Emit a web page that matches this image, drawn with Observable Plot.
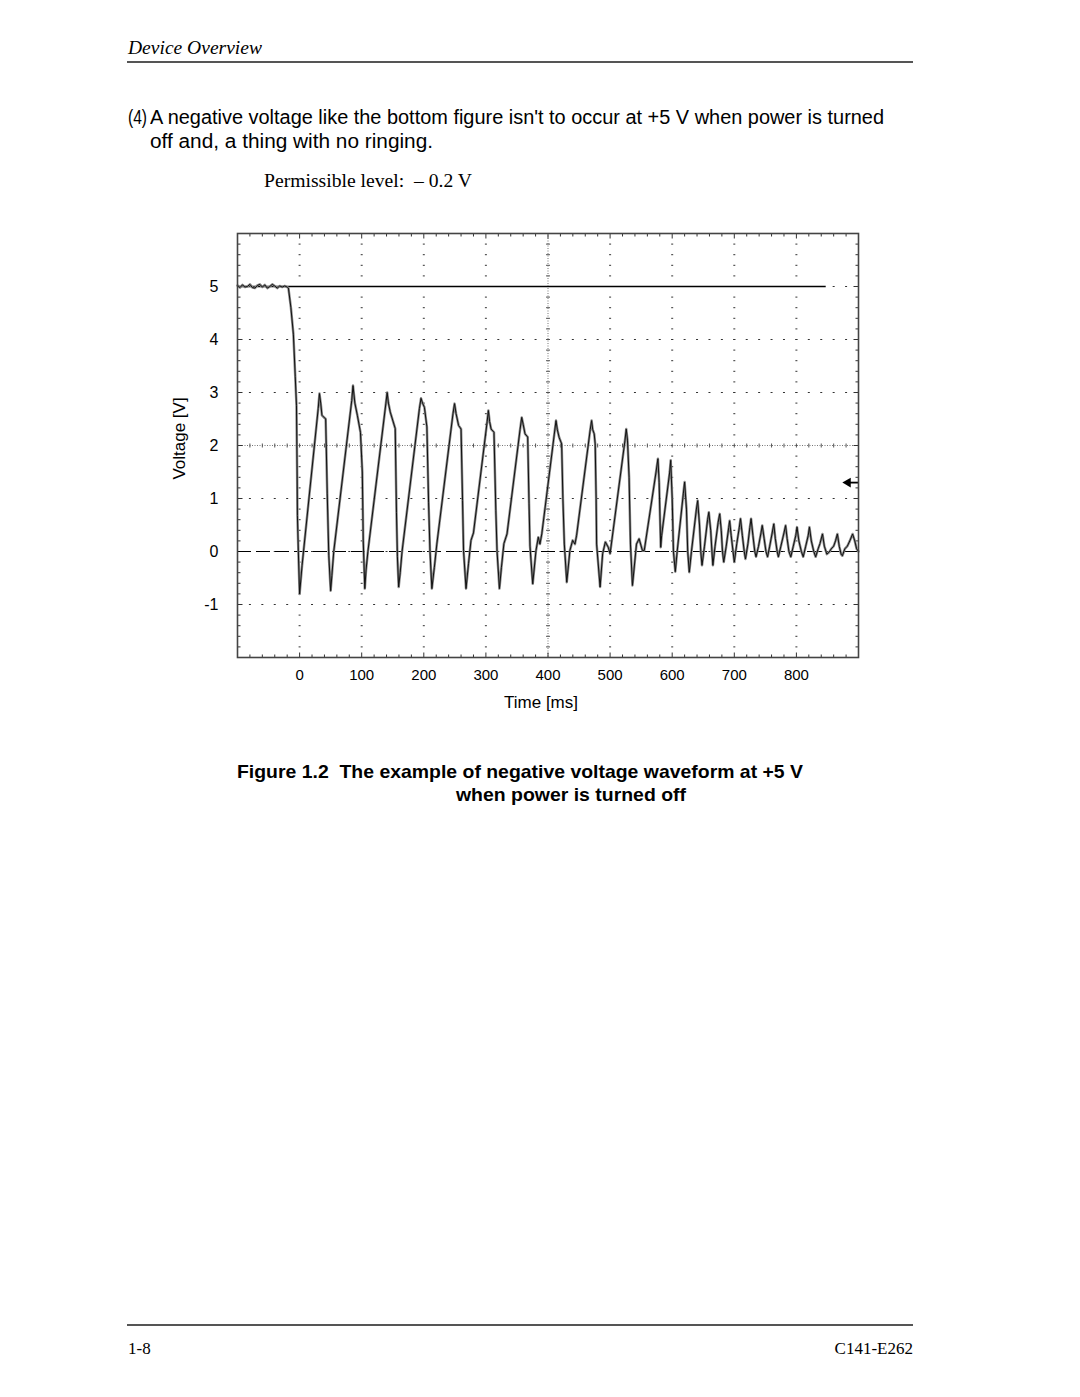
<!DOCTYPE html>
<html><head><meta charset="utf-8">
<script src="https://cdn.jsdelivr.net/npm/d3@7"></script>
<script src="https://cdn.jsdelivr.net/npm/@observablehq/plot@0.6"></script>
<style>
body{margin:0;background:#fff;width:1080px;height:1397px;position:relative;overflow:hidden;}
.t{position:absolute;white-space:nowrap;color:#000;line-height:1;}
.sans{font-family:"Liberation Sans",Arial,sans-serif;}
.serif{font-family:"Liberation Serif","Times New Roman",serif;}
.rule{position:absolute;height:2px;background:#555;}
</style></head><body>
<div class="t serif fit" data-w="134" style="left:128px;top:38px;font-size:19px;font-style:italic;">Device Overview</div>
<div class="rule" style="left:127px;top:61px;width:786px;"></div>
<div class="t sans fit" data-w="19" style="left:128px;top:107px;font-size:20px;">(4)</div>
<div class="t sans fit" data-w="734" style="left:150px;top:107px;font-size:20px;">A negative voltage like the bottom figure isn't to occur at +5 V when power is turned</div>
<div class="t sans fit" data-w="283" style="left:150px;top:131px;font-size:20px;">off and, a thing with no ringing.</div>
<div class="t serif fit" data-w="208" style="left:264px;top:171px;font-size:19px;">Permissible level:&nbsp; – 0.2 V</div>
<div id="chart" style="position:absolute;left:160px;top:220px;"></div>
<div class="t sans fit" data-w="566" style="left:237px;top:762px;font-size:19px;font-weight:bold;">Figure 1.2&nbsp; The example of negative voltage waveform at +5 V</div>
<div class="t sans fit" data-w="230" style="left:456px;top:785px;font-size:19px;font-weight:bold;">when power is turned off</div>
<div class="rule" style="left:127px;top:1324px;width:786px;"></div>
<div class="t serif" style="left:128px;top:1340px;font-size:17px;">1-8</div>
<div class="t serif" style="right:167px;top:1340px;font-size:17px;">C141-E262</div>
<script>
// ---- data ----
const timeTicks = [0, 100, 200, 300, 400, 500, 600, 700, 800];
const voltTicks = [-1, 0, 1, 2, 3, 4, 5];
const xDomain = [-100, 900];
const yDomain = [-2, 6];
const refLevel = 5;          // +5 V solid reference line
const refLineEnd = 848;      // ms where the reference line stops
const zeroLevel = 0;         // dashed 0 V line
const triggerLevel = 1.3;    // arrow marker at right edge
const centerTime = 400;
const centerVolt = 2;
const xLabel = "Time [ms]";
const yLabel = "Voltage [V]";

const traceTime = [
  -100,-96,-92,-88,-84,-80,-76,-72,-68,-64,-60,-56,-52,-48,-44,-40,-36,-32,-28,-24,-20,-18,
  -14,-10,-7,-5,-4,-3.5,-2,0,
  4,30,32,34,36,42,44.5,47,50,
  52,55,84,86,89,93,98,101,102.5,105,
  107,110,139,141,143,146,154,156,157.5,159.5,
  162,165,193,195.5,198,201,205,207.7,210,213,
  217,221,247,249.5,252,256,260,262.4,264,268,
  272,276,280,302,304,306,308.4,313,316,318,321.8,
  325,329,334,355,357.7,360,363,367.3,369.5,371,375.4,
  380.7,384.4,387,390,410,412.9,415,418,422,424,426.3,430.2,
  435.3,439.7,443.4,446,468,470.2,472,474.4,476,477.5,478.3,483.9,
  488,492.4,497,500,524,526,528,530.6,532.8,536,
  542.5,546.7,552,555,574,577,579,581.5,583,596,597.6,600,602,605,
  608,618,620,623,625,627.5,631,639,641,644,646,648,
  652,657,659,662,664,665.5,669,674,676.5,679,681,683,
  687,691,692.5,695,698,700,704,708,710,713,716,718,
  722,725,727,730,733,735,739,743,745,748,751,753.6,
  757,761,763.6,766,769,771,775,780,782.6,785,788,791,
  795,799,801,804,808,811,815,819,821,824,828,831,
  835,838,842,845,849,853,856,860,863,866,869,872,874,
  878,882,886,890.5,894,897,900
];
const traceVolt = [
  5.02,4.98,5.03,4.99,5.00,5.04,4.98,4.97,5.02,5.04,4.99,5.03,4.97,5.00,5.04,5.01,4.97,5.01,4.99,5.01,4.99,4.97,
  4.60,4.10,3.30,2.75,1.50,0.68,0.00,-0.80,
  -0.26,2.70,2.98,2.80,2.57,2.50,1.10,-0.07,-0.74,
  -0.45,0.00,2.85,3.13,2.80,2.57,2.25,1.50,0.20,-0.70,
  -0.35,0.00,2.80,3.00,2.80,2.63,2.32,0.74,-0.10,-0.67,
  -0.40,0.00,2.70,2.89,2.80,2.72,2.35,0.93,0.00,-0.70,
  -0.30,0.14,2.60,2.79,2.60,2.38,2.31,0.96,0.02,-0.70,
  -0.23,0.21,0.35,2.45,2.66,2.45,2.31,2.25,0.77,0.00,-0.70,
  -0.30,0.15,0.33,2.30,2.53,2.40,2.22,2.16,0.90,0.10,-0.61,
  0.02,0.27,0.14,0.33,2.20,2.47,2.30,2.15,2.03,1.00,0.14,-0.58,
  0.02,0.21,0.14,0.30,2.30,2.47,2.30,2.22,2.03,1.00,0.14,-0.67,
  -0.04,0.18,0.08,-0.04,2.10,2.31,2.10,1.40,0.14,-0.64,
  0.14,0.24,0.02,0.02,1.50,1.75,1.30,0.08,0.30,1.50,1.72,1.00,0.00,-0.38,
  0.00,1.10,1.31,0.80,0.00,-0.39,0.00,0.80,0.96,0.50,0.00,-0.26,
  0.10,0.60,0.74,0.40,0.00,-0.26,0.10,0.55,0.71,0.40,0.00,-0.20,
  0.10,0.45,0.58,0.30,0.00,-0.20,0.15,0.45,0.62,0.30,0.00,-0.14,
  0.15,0.45,0.62,0.30,0.00,-0.10,0.10,0.35,0.49,0.25,0.00,-0.10,
  0.10,0.35,0.52,0.25,0.00,-0.10,0.10,0.35,0.49,0.25,0.00,-0.10,
  0.10,0.30,0.46,0.20,0.00,-0.10,0.10,0.30,0.46,0.20,0.00,-0.10,
  0.05,0.15,0.33,0.10,-0.05,-0.01,0.05,0.10,0.20,0.33,0.10,-0.05,-0.08,
  0.05,0.10,0.20,0.33,0.20,0.05,0.00
];

// ---- derived structures ----
const trace = traceTime.map((t, i) => ({t, v: traceVolt[i]}));
const xMinor = d3.range(0, 51).map(k => xDomain[0] + k * 20);
const yMinor = d3.range(0, 41).map(k => yDomain[0] + k * 0.2);
const xMajor = d3.range(0, 11).map(k => xDomain[0] + k * 100);
const yMajor = d3.range(0, 9).map(k => yDomain[0] + k);
const isMajorX = x => Math.abs(((x - xDomain[0]) / 100) - Math.round((x - xDomain[0]) / 100)) < 1e-6;
const isMajorY = y => Math.abs((y - yDomain[0]) - Math.round(y - yDomain[0])) < 1e-6;

const seg = (x0, y0, x1, y1) => ({draw(ctx) { ctx.moveTo(x0, y0); ctx.lineTo(x1, y1); }});
const hDot = seg(-1, 0, 1, 0);
const hTick = seg(-2, 0, 2, 0);
const vTick = seg(0, -2, 0, 2);

const interiorX = xMajor.slice(1, -1).filter(x => x !== centerTime);
const interiorY = yMajor.slice(1, -1).filter(y => y !== centerVolt);
const gridV = interiorX.flatMap(x => yMinor.slice(1, -1).map(y => ({x, y})));
const gridH = interiorY.flatMap(y => xMinor.slice(1, -1).map(x => ({x, y})));
const centerVTicks = yMinor.slice(1, -1).map(y => ({x: centerTime, y}));
const centerHTicks = xMinor.slice(1, -1).map(x => ({x, y: centerVolt}));

const edgeLeft = yMinor.slice(1, -1).map(y => ({x: xDomain[0], y, major: isMajorY(y)}));
const edgeRight = yMinor.slice(1, -1).map(y => ({x: xDomain[1], y, major: isMajorY(y)}));
const edgeBottom = xMinor.slice(1, -1).map(x => ({x, y: yDomain[0], major: isMajorX(x)}));
const edgeTop = xMinor.slice(1, -1).map(x => ({x, y: yDomain[1], major: isMajorX(x)}));

const dotStyle = {fill: "none", stroke: "#333", strokeWidth: 1};

const chart = Plot.plot({
  width: 720,
  height: 500,
  marginLeft: 77,
  marginRight: 22,
  marginTop: 13,
  marginBottom: 63,
  style: {fontFamily: "'Liberation Sans', Arial, sans-serif", fontSize: "15px", color: "#000", background: "#fff"},
  x: {domain: xDomain},
  y: {domain: yDomain},
  marks: [
    // dotted graticule
    Plot.dot(gridV, {x: "x", y: "y", symbol: hDot, ...dotStyle}),
    Plot.dot(gridH, {x: "x", y: "y", symbol: hDot, ...dotStyle}),
    // center axes
    Plot.ruleX([centerTime], {stroke: "#777", strokeDasharray: "1,1.5"}),
    Plot.ruleY([centerVolt], {stroke: "#777", strokeDasharray: "1,1.5"}),
    Plot.dot(centerVTicks, {x: "x", y: "y", symbol: hTick, ...dotStyle, stroke: "#555"}),
    Plot.dot(centerHTicks, {x: "x", y: "y", symbol: vTick, ...dotStyle, stroke: "#555"}),
    // frame edge ticks
    Plot.dot(edgeLeft, {x: "x", y: "y", symbol: d => d.major ? seg(0,0,5,0) : seg(0,0,3,0), ...dotStyle}),
    Plot.dot(edgeRight, {x: "x", y: "y", symbol: d => d.major ? seg(0,0,-5,0) : seg(0,0,-3,0), ...dotStyle}),
    Plot.dot(edgeBottom, {x: "x", y: "y", symbol: d => d.major ? seg(0,0,0,-5) : seg(0,0,0,-3), ...dotStyle}),
    Plot.dot(edgeTop, {x: "x", y: "y", symbol: d => d.major ? seg(0,0,0,5) : seg(0,0,0,3), ...dotStyle}),
    // reference lines
    Plot.ruleY([zeroLevel], {stroke: "#000", strokeWidth: 1.2, strokeDasharray: "14,5"}),
    Plot.ruleY([refLevel], {x1: xDomain[0], x2: refLineEnd, stroke: "#000", strokeWidth: 1.4}),
    // waveform
    Plot.line(trace, {x: "t", y: "v", stroke: "#8a8a8a", strokeWidth: 2.5}),
    Plot.line(trace, {x: "t", y: "v", stroke: "#111", strokeWidth: 1.0}),
    // trigger arrow
    Plot.link([triggerLevel], {x1: xDomain[1], x2: xDomain[1] - 18, y1: d => d, y2: d => d, stroke: "#000", strokeWidth: 1.8}),
    Plot.dot([triggerLevel], {x: xDomain[1] - 17, y: d => d, symbol: "triangle", r: 3.6, rotate: -90, fill: "#000", stroke: "none"}),
    Plot.frame({stroke: "#444", strokeWidth: 1.6}),
    Plot.axisY(voltTicks, {tickSize: 0, tickPadding: 19, tickFormat: d => String(d), label: null, fontSize: 16}),
    Plot.axisX(timeTicks, {tickSize: 0, tickPadding: 12, tickFormat: d => String(d), label: null, fontSize: 15}),
    Plot.text([yLabel], {frameAnchor: "left", rotate: -90, textAnchor: "middle", lineAnchor: "middle", dx: -58, dy: -7, fontSize: 17}),
    Plot.text([xLabel], {frameAnchor: "bottom", textAnchor: "middle", lineAnchor: "middle", dx: -7, dy: 45, fontSize: 17})
  ]
});
document.getElementById("chart").appendChild(chart);

// fit text runs to the widths measured on the reference
document.querySelectorAll(".fit").forEach(el => {
  const w = el.getBoundingClientRect().width;
  const target = +el.dataset.w;
  if (w > 0) {
    el.style.transformOrigin = "left center";
    el.style.transform = `scaleX(${target / w})`;
  }
});
</script>
</body></html>
